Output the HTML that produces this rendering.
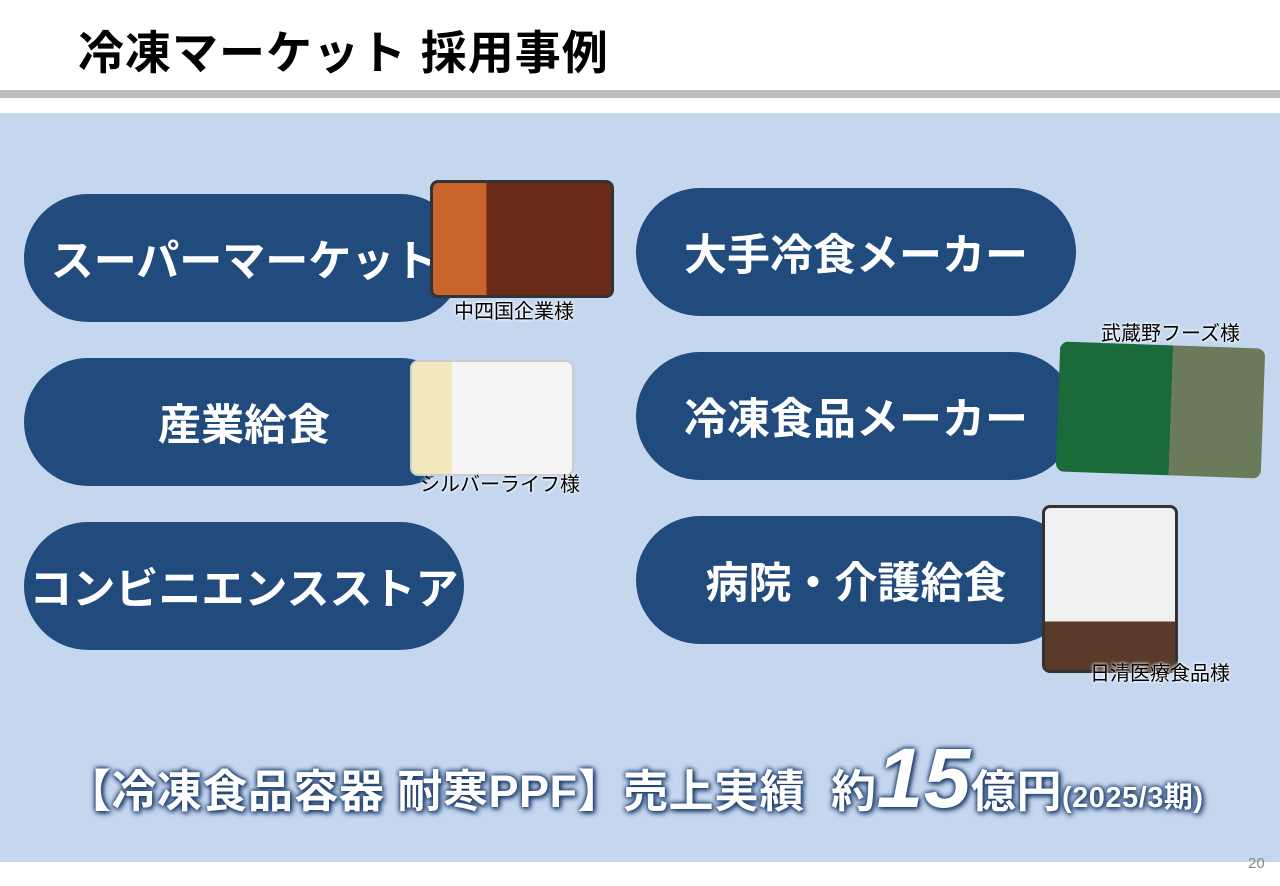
<!DOCTYPE html>
<html><head><meta charset="utf-8"><style>
body{margin:0;width:1280px;height:886px;background:#fff;position:relative;overflow:hidden;font-family:"Liberation Sans","Noto Sans CJK JP",sans-serif}
.t{position:absolute;left:78px;top:17px;font-size:46px;font-weight:bold;color:#000;letter-spacing:1px}
.line{position:absolute;left:0;top:90px;width:1280px;height:8px;background:#bfbfbf}
.panel{position:absolute;left:0;top:113px;width:1280px;height:749px;background:#c5d7ef}
.p{position:absolute;width:440px;height:128px;border-radius:64px;background:#214a7d;color:#fff;font-size:43px;font-weight:bold;display:flex;align-items:center;justify-content:center}
.lab{position:absolute;font-size:20px;color:#000;text-shadow:0 0 3px #fff,0 0 3px #fff}
.big{position:absolute;left:66px;top:730px;color:#fff;font-weight:bold;font-size:45px;letter-spacing:0.5px;white-space:nowrap;text-shadow:0 0 4px #1f3f6e,0 0 6px #1f3f6e,2px 2px 6px #1f3f6e}
.num{font-size:84px;font-style:italic}
.img{position:absolute;border-radius:8px}
</style></head><body>
<div class="t">冷凍マーケット 採用事例</div>
<div class="line"></div>
<div class="panel"></div>
<div class="p" style="left:24px;top:194px">スーパーマーケット</div>
<div class="p" style="left:24px;top:358px">産業給食</div>
<div class="p" style="left:24px;top:522px">コンビニエンスストア</div>
<div class="p" style="left:636px;top:188px">大手冷食メーカー</div>
<div class="p" style="left:636px;top:352px">冷凍食品メーカー</div>
<div class="p" style="left:636px;top:516px">病院・介護給食</div>
<div class="img" style="left:430px;top:180px;width:178px;height:112px;background:linear-gradient(90deg,#c8642c 0 30%,#6a2a18 30%);border:3px solid #333"></div>
<div class="img" style="left:410px;top:360px;width:160px;height:112px;background:linear-gradient(90deg,#f2e8c0 0 25%,#f5f5f5 25%);border:2px solid #ccc"></div>
<div class="img" style="left:1058px;top:345px;width:205px;height:130px;background:linear-gradient(90deg,#1a6a3a 0 55%,#6a7a5a 55%);transform:rotate(2deg)"></div>
<div class="img" style="left:1042px;top:505px;width:130px;height:162px;background:linear-gradient(180deg,#f0f0f0 0 70%,#5a3a28 70%);border:3px solid #333"></div>
<div class="lab" style="left:454px;top:295px">中四国企業様</div>
<div class="lab" style="left:420px;top:468px">シルバーライフ様</div>
<div class="lab" style="left:1101px;top:317px">武蔵野フーズ様</div>
<div class="lab" style="left:1090px;top:657px">日清医療食品様</div>
<div class="big">【冷凍食品容器 耐寒PPF】売上実績&nbsp; 約<span class="num">15</span>億円<span style="font-size:29px">(2025/3期)</span></div>
<div style="position:absolute;left:1248px;top:855px;font-size:15px;color:#888">20</div>
</body></html>
